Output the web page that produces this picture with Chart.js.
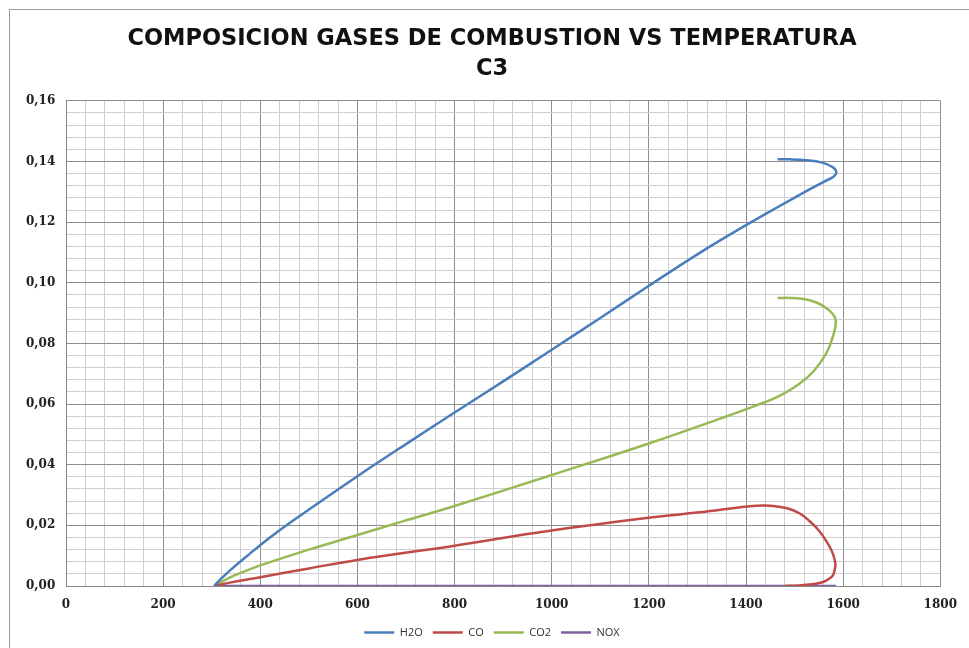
<!DOCTYPE html>
<html>
<head>
<meta charset="utf-8">
<script src="https://cdn.jsdelivr.net/npm/chart.js@4.4.0/dist/chart.umd.min.js"></script>
<style>
    html, body { margin: 0; padding: 0; background: #fff; }
    #wrap { position: relative; width: 969px; height: 648px; overflow: hidden; }
    #gasChart { position: absolute; left: 0; top: 0; }
    #frame { position: absolute; left: 9px; top: 9px; width: 980px; height: 660px; border: 1px solid #9a9a9a; pointer-events: none; }
</style>
</head>
<body>
<div id="wrap">
    <canvas id="gasChart" width="969" height="648" style="width:969px;height:648px"></canvas>
    <div id="frame"></div>
</div>
<script>
// temperature (x) and molar fraction (y)
var h2oTemp = [305, 320, 340, 378, 420, 467, 600, 700, 800, 900, 1000, 1100, 1200, 1304, 1400, 1460, 1524, 1560, 1580, 1586, 1578, 1555, 1524, 1490, 1465];
var h2oFrac = [0, 0.0025, 0.0055, 0.0106, 0.0160, 0.0215, 0.0362, 0.0468, 0.0572, 0.0675, 0.0779, 0.0884, 0.0990, 0.1098, 0.1190, 0.1245, 0.1302, 0.1333, 0.1350, 0.1365, 0.1382, 0.1397, 0.1404, 0.1407, 0.1407];

var coTemp = [305, 340, 378, 400, 500, 600, 800, 996, 1200, 1304, 1380, 1421, 1450, 1483, 1510, 1530, 1550, 1565, 1578, 1584, 1582, 1578, 1565, 1551, 1530, 1510, 1480];
var coFrac = [0, 0.0012, 0.0023, 0.0029, 0.0058, 0.0086, 0.0133, 0.0182, 0.0225, 0.0243, 0.0258, 0.0265, 0.0265, 0.0257, 0.0240, 0.0215, 0.0183, 0.0149, 0.011, 0.0073, 0.005, 0.0033, 0.0018, 0.001, 0.0005, 0.0002, 0];

var co2Temp = [305, 340, 378, 400, 500, 600, 693, 800, 1000, 1200, 1345, 1420, 1470, 1510, 1540, 1565, 1578, 1585, 1578, 1565, 1545, 1524, 1490, 1465];
var co2Frac = [0, 0.0030, 0.0055, 0.0068, 0.0120, 0.0168, 0.0213, 0.0264, 0.0366, 0.047, 0.0551, 0.0595, 0.0628, 0.0667, 0.0710, 0.0766, 0.0818, 0.0875, 0.0898, 0.0917, 0.0935, 0.0945, 0.0950, 0.0950];

var noxTemp = [305, 800, 1300, 1585];
var noxFrac = [0, 0, 0, 0];

var seriesNames = ['H2O', 'CO', 'CO2', 'NOX'];
var seriesColors = ['#4a7ebb', '#be4b48', '#98b954', '#7d60a0'];

var xTicks = { min: 0, max: 1800, step: 40, labelEvery: 200 };
var yTicks = { min: 0, max: 0.16, step: 0.004, labelEvery: 0.02 };

var toPoints = function (temps, fracs) {
    return temps.map(function (t, i) { return { x: t, y: fracs[i] }; });
};

var isMajor = function (v, every) {
    var r = v / every;
    return Math.abs(r - Math.round(r)) < 1e-6;
};

var datasets = [
    toPoints(h2oTemp, h2oFrac),
    toPoints(coTemp, coFrac),
    toPoints(co2Temp, co2Frac),
    toPoints(noxTemp, noxFrac)
].map(function (pts, i) {
    return {
        label: seriesNames[i],
        data: pts,
        borderColor: seriesColors[i],
        backgroundColor: seriesColors[i],
        borderWidth: 2.5,
        showLine: true,
        pointRadius: 0,
        pointHoverRadius: 0,
        tension: 0.4,
        fill: false
    };
});

var tickFont = { family: "'DejaVu Serif', 'Liberation Serif', serif", size: 12, weight: 'bold' };

var ctx = document.getElementById('gasChart').getContext('2d');
window.gasChart = new Chart(ctx, {
    type: 'scatter',
    data: { datasets: datasets },
    options: {
        responsive: false,
        animation: false,
        // left padding moves title/legend centre right; y labels are mirrored + pulled back out so they don't get clipped
        layout: { padding: { left: 43, right: 28, top: 14, bottom: 0 } },
        plugins: {
            title: {
                display: true,
                text: ['COMPOSICION GASES DE COMBUSTION VS TEMPERATURA', 'C3'],
                color: '#111',
                font: { family: "'DejaVu Sans', sans-serif", size: 22.5, weight: 'bold', lineHeight: 1.33 },
                padding: { top: 10, bottom: 17 }
            },
            legend: {
                position: 'bottom',
                labels: {
                    usePointStyle: true,
                    pointStyle: 'line',
                    pointStyleWidth: 30,
                    color: '#333',
                    padding: 10,
                    font: { family: "'Open Sans', 'Liberation Sans', sans-serif", size: 11 }
                }
            },
            tooltip: { enabled: false }
        },
        scales: {
            x: {
                type: 'linear',
                min: xTicks.min,
                max: xTicks.max,
                afterFit: function (scale) { scale.height = 31; },
                border: { color: '#868686' },
                grid: {
                    drawTicks: false,
                    color: function (c) {
                        return c.tick && isMajor(c.tick.value, xTicks.labelEvery) ? '#8f8f8f' : '#cfcfcf';
                    }
                },
                ticks: {
                    stepSize: xTicks.step,
                    autoSkip: false,
                    maxRotation: 0,
                    padding: 12,
                    color: '#222',
                    font: tickFont,
                    callback: function (v) { return isMajor(v, xTicks.labelEvery) ? String(Math.round(v)) : ''; }
                }
            },
            y: {
                type: 'linear',
                min: yTicks.min,
                max: yTicks.max,
                afterFit: function (scale) { scale.width = 23; },
                border: { color: '#868686' },
                grid: {
                    drawTicks: false,
                    color: function (c) {
                        return c.tick && isMajor(c.tick.value, yTicks.labelEvery) ? '#8f8f8f' : '#cfcfcf';
                    }
                },
                ticks: {
                    stepSize: yTicks.step,
                    autoSkip: false,
                    mirror: true,
                    crossAlign: 'far',
                    padding: -40,
                    color: '#222',
                    font: tickFont,
                    callback: function (v) { return isMajor(v, yTicks.labelEvery) ? v.toFixed(2).replace('.', ',') : ''; }
                }
            }
        }
    }
});
</script>
</body>
</html>
